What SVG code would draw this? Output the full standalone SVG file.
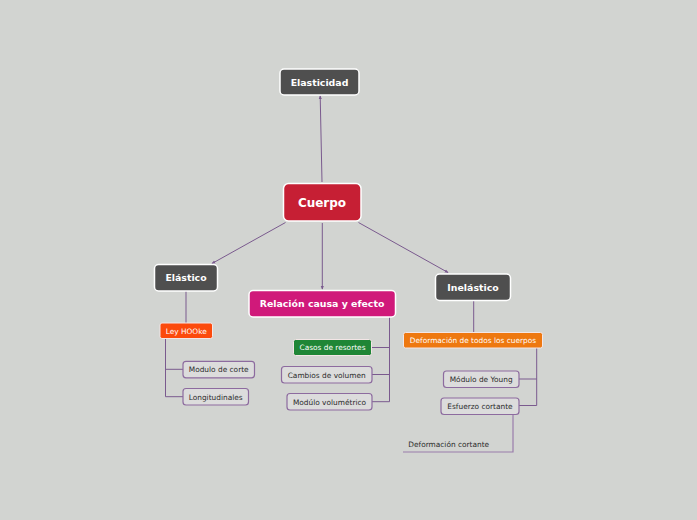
<svg xmlns="http://www.w3.org/2000/svg" width="697" height="520" viewBox="0 0 697 520">
<defs>
<marker id="ah" viewBox="0 0 6 6" refX="5" refY="3" markerWidth="4" markerHeight="4" orient="auto" markerUnits="userSpaceOnUse">
<path d="M0,0.5 L6,3 L0,5.5 z" fill="#7a5a8e"/>
</marker>
<style>
.bg{fill:#d2d4d1}
.c{stroke:#7a5a8e;stroke-width:1;fill:none}
.cl{stroke:#9a7cab;stroke-width:1.2;fill:none}
.dk{fill:#4f4f4f;stroke:#ffffff;stroke-width:1.5}
.lt{fill:#dcdcdc;stroke:#8d6b9f;stroke-width:1.2}
.col{stroke:#f3e6e6;stroke-width:1}
.tb{font-family:"DejaVu Sans",Verdana,sans-serif;font-weight:bold;fill:#ffffff;text-anchor:middle}
.ts{font-family:"DejaVu Sans",Verdana,sans-serif;font-size:7.4px;fill:#2b2b2b;text-anchor:middle}
.tw{font-family:"DejaVu Sans",Verdana,sans-serif;font-size:7.4px;fill:#ffffff;text-anchor:middle}
</style>
</defs>
<rect class="bg" x="0" y="0" width="697" height="520"/>

<g id="connectors">
<line class="c" x1="322" y1="182" x2="320.2" y2="96" marker-end="url(#ah)"/>
<line class="c" x1="285.5" y1="222.5" x2="212" y2="263.5" marker-end="url(#ah)"/>
<line class="c" x1="322.3" y1="223" x2="322.3" y2="289" marker-end="url(#ah)"/>
<line class="c" x1="358.5" y1="222.5" x2="448" y2="272.5" marker-end="url(#ah)"/>
<path class="c" d="M186,291 V323"/>
<path class="c" d="M165.5,339 V396.7 H183 M165.5,369.3 H183"/>
<path class="c" d="M389.5,317 V401.7 H372 M389.5,374.5 H372 M389.5,347.5 H372"/>
<path class="c" d="M473.7,301 V332"/>
<path class="c" d="M536.7,348 V405.5 H519 M536.7,379 H519"/>
<path class="cl" d="M513,414.5 V452 H403"/>
</g>

<g id="elasticidad">
<rect class="dk" x="280" y="69" width="79" height="26" rx="4"/>
<text class="tb" x="319.5" y="85.5" font-size="9.4">Elasticidad</text>
</g>
<g id="cuerpo">
<rect x="283.5" y="183.5" width="77.5" height="37.5" rx="5" fill="#c61f34" stroke="#ffffff" stroke-width="1.5"/>
<text class="tb" x="322" y="206.8" font-size="12">Cuerpo</text>
</g>
<g id="elastico">
<rect class="dk" x="154.5" y="264.5" width="63" height="26.5" rx="4"/>
<text class="tb" x="186" y="281" font-size="9.4">Elástico</text>
</g>
<g id="relacion">
<rect x="249" y="290.5" width="146.5" height="26.5" rx="4" fill="#d0197a" stroke="#ffffff" stroke-width="1.5"/>
<text class="tb" x="322" y="307" font-size="9.4">Relación causa y efecto</text>
</g>
<g id="inelastico">
<rect class="dk" x="435.5" y="274" width="75" height="26.5" rx="4"/>
<text class="tb" x="473" y="290.5" font-size="9.4">Inelástico</text>
</g>

<g id="ley-hooke">
<rect class="col" x="160" y="323" width="52.5" height="15.5" rx="2" fill="#fc4a0c"/>
<text class="tw" x="186.2" y="333.5">Ley HOOke</text>
</g>
<g id="modulo-corte">
<rect class="lt" x="183" y="361.3" width="71.5" height="16.5" rx="3"/>
<text class="ts" x="218.7" y="372.2">Modulo de corte</text>
</g>
<g id="longitudinales">
<rect class="lt" x="183" y="388.5" width="65.5" height="16.5" rx="3"/>
<text class="ts" x="215.7" y="399.5">Longitudinales</text>
</g>

<g id="casos-resortes">
<rect class="col" x="293.5" y="339.5" width="78" height="16" rx="2" fill="#1f8636"/>
<text class="tw" x="332.5" y="350.3">Casos de resortes</text>
</g>
<g id="cambios-volumen">
<rect class="lt" x="281.5" y="366.5" width="90.5" height="16.5" rx="3"/>
<text class="ts" x="326.7" y="377.5">Cambios de volumen</text>
</g>
<g id="modulo-volumetrico">
<rect class="lt" x="287" y="393.5" width="85" height="16.5" rx="3"/>
<text class="ts" x="329.5" y="404.5">Modúlo volumétrico</text>
</g>

<g id="deformacion-todos">
<rect class="col" x="403.5" y="332.5" width="139" height="15.5" rx="2" fill="#ee7810"/>
<text class="tw" x="473" y="343">Deformación de todos los cuerpos</text>
</g>
<g id="modulo-young">
<rect class="lt" x="443.5" y="371" width="75.5" height="16.5" rx="3"/>
<text class="ts" x="481.2" y="382">Módulo de Young</text>
</g>
<g id="esfuerzo-cortante">
<rect class="lt" x="441" y="398" width="78" height="16.5" rx="3"/>
<text class="ts" x="480" y="409">Esfuerzo cortante</text>
</g>
<g id="deformacion-cortante">
<text class="ts" x="408.3" y="447" style="text-anchor:start">Deformación cortante</text>
</g>
</svg>
